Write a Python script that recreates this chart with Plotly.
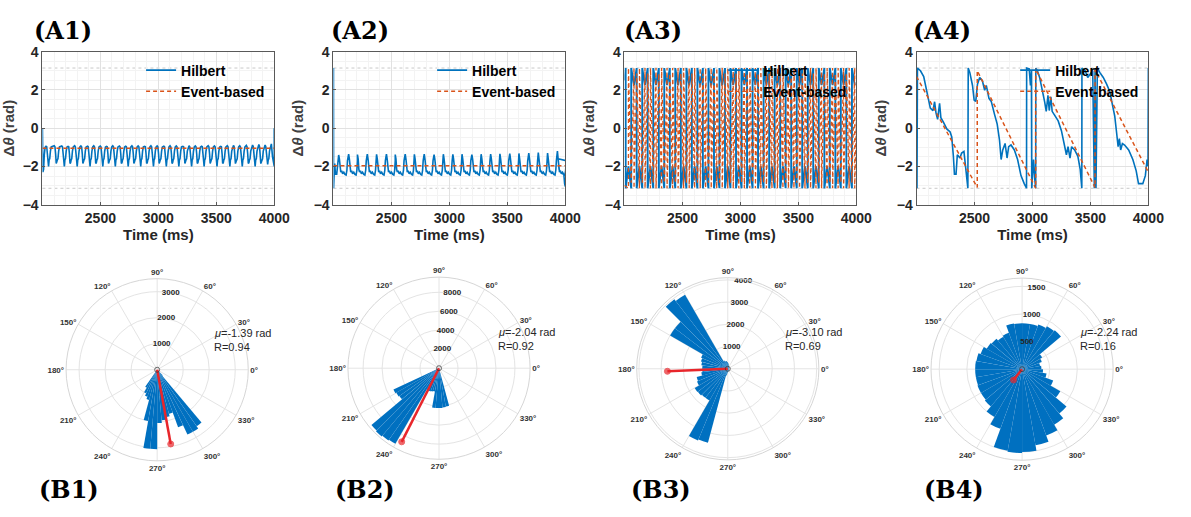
import numpy as np
import plotly.graph_objects as go

W, H = 1191, 517

# ---------------- shared axis data ----------------
T_RANGE = [2000, 4000]
X_TICKS = [2500, 3000, 3500, 4000]
Y_TICKS = [-4, -2, 0, 2, 4]
PI_LEVELS = [3.1416, -3.1416]

# ---------------- A1 ----------------
a1_head_t = [2000, 2004, 2010, 2016, 2023]
a1_head_v = [0.0, -2.3, -2.15, -1.4, -1.0]
a1_peak_t = [2031, 2102, 2167, 2221, 2278, 2332, 2389, 2443, 2499, 2553, 2607, 2664,
             2718, 2772, 2826, 2882, 2936, 2990, 3047, 3101, 3155, 3212, 3265, 3319,
             3373, 3430, 3484, 3538, 3595, 3648, 3702, 3759, 3813, 3867, 3921]
a1_peak_v = [-0.95, -0.92, -0.93, -0.95, -0.92, -0.93, -0.94, -0.92, -0.93, -0.95, -0.92, -0.93,
             -0.94, -0.92, -0.93, -0.95, -0.92, -0.93, -0.94, -0.92, -0.93, -0.95, -0.92, -0.93,
             -0.94, -0.92, -0.93, -0.95, -0.92, -0.90, -0.92, -0.90, -0.88, -0.85, -0.88]
a1_trough_v = [-2.0, -1.75, -2.0, -1.8, -2.0, -1.75, -2.0, -1.8, -2.0, -1.75, -2.0, -1.8,
               -2.0, -1.75, -2.0, -1.8, -2.0, -1.75, -2.0, -1.8, -2.0, -1.75, -2.0, -1.8,
               -2.0, -1.75, -2.0, -1.8, -2.0, -1.75, -2.0, -1.8, -2.0, -1.75, -1.9]
a1_shape_dt = [6, 12, 17, 22, 27, 32, 38, 45]
a1_shape_v = [-0.97, -1.35, -1.85, None, -1.65, -1.6, -1.2, -0.98]   # None -> trough value
a1_tail_t = [3975, 3985, 3995, 4000, 4000]
a1_tail_v = [-0.82, -1.5, -2.0, -2.0, 0.0]
a1_event_t = [2000, 4000]
a1_event_v = [-1.05, -1.05]

# ---------------- A2 ----------------
a2_head_t = [2000, 2001, 2006, 2011, 2017, 2028, 2037]
a2_head_v = [3.14, -3.14, -2.35, -1.85, -2.4, -2.4, -2.0]
a2_peak_t = [2045, 2131, 2207, 2292, 2372, 2457, 2533, 2619, 2698, 2783, 2868, 2948,
             3030, 3109, 3194, 3274, 3356, 3436, 3521, 3600, 3685, 3767, 3847, 3932]
a2_peak_v = [-1.4, -1.36, -1.38, -1.36, -1.37, -1.36, -1.38, -1.36, -1.37, -1.36, -1.38, -1.36,
             -1.37, -1.36, -1.38, -1.36, -1.35, -1.34, -1.33, -1.32, -1.3, -1.28, -1.3, -1.2]
a2_shape_dt = [6, 12, 18, 26, 34, 44, 54, 64, 71, 76]
a2_shape_v = [-1.6, -2.15, -2.3, -2.22, -2.38, -2.3, -2.42, -2.45, -2.2, -1.7]
a2_tail_t = [3938, 3946, 3960, 3975, 3988, 3994, 4000]
a2_tail_v = [-1.6, -2.15, -2.3, -2.35, -2.45, -2.9, -3.05]
a2_event_t = [2000, 4000]
a2_event_v = [-1.96, -1.96]

# ---------------- A3 (phase hovering around +/-pi, crossing the wrap) ----------------
a3_h_head_t = [2000]
a3_h_head_v = [2.5]
a3_h_cross = [2010, 2058, 2105, 2153, 2200, 2248, 2296, 2343, 2391, 2438, 2486, 2534,
              2581, 2629, 2676, 2724, 2772, 2819, 2867, 2914, 2962, 3010, 3057, 3105,
              3152, 3200, 3248, 3295, 3343, 3390, 3438, 3486, 3533, 3581, 3628, 3676,
              3724, 3771, 3819, 3866, 3914, 3962]
a3_h_tip_dt = 24                 # time of excursion tip after a crossing
a3_h_tips = [-2.0, 2.25]         # bottom excursion tip, top excursion tip
a3_e_head_t = [2000]
a3_e_head_v = [-3.0]
a3_e_cross = [2034, 2082, 2129, 2177, 2224, 2272, 2320, 2367, 2415, 2462, 2510, 2558,
              2605, 2653, 2700, 2748, 2796, 2843, 2891, 2938, 2986, 3034, 3081, 3129,
              3176, 3224, 3272, 3319, 3367, 3414, 3462, 3510, 3557, 3605, 3652, 3700,
              3748, 3795, 3843, 3890, 3938, 3986]
a3_e_tip_dt = 24
a3_e_tips = [2.85, -2.85]

# ---------------- A4 ----------------
a4_h_t = [2000, 2004, 2008, 2034, 2062, 2091, 2119, 2142, 2156, 2168, 2182, 2199, 2210, 2233,
          2261, 2290, 2304, 2318, 2327, 2341, 2352, 2375, 2389, 2409, 2426, 2443, 2446, 2460,
          2483, 2497, 2511, 2526, 2545, 2568, 2588, 2602, 2625, 2645, 2673, 2696, 2716, 2730,
          2744, 2764, 2781, 2795, 2815, 2844, 2872, 2901, 2929, 2949, 2950, 2972, 2983, 2991,
          2994, 3009, 3020, 3028, 3029, 3043, 3062, 3085, 3105, 3119, 3134, 3145, 3159, 3170,
          3193, 3222, 3250, 3276, 3293, 3307, 3324, 3338, 3364, 3392, 3412, 3426, 3427, 3455,
          3477, 3497, 3520, 3534, 3540, 3548, 3560, 3582, 3611, 3639, 3668, 3690, 3710, 3727,
          3739, 3750, 3761, 3776, 3795, 3830, 3866, 3895, 3915, 3952, 3974, 3989, 3997, 4000]
a4_h_v = [0.88, -3.14, 3.14, 3.0, 2.7, 1.9, 1.05, 0.92, 1.38, 0.8, 0.46, 1.3, 0.55, 0.3,
          -0.04, -0.2, -0.46, -1.47, -2.4, -2.4, -1.39, -1.56, -1.3, -1.22, -2.15, -3.14, 3.14, 2.9,
          2.23, 1.47, 1.4, 2.3, 2.65, 2.48, 1.98, 2.23, 1.56, 1.39, 0.72, 0.21, -0.63, -1.64,
          -1.14, -0.8, -1.56, -0.97, -0.88, -1.14, -1.64, -2.48, -2.9, -3.14, 3.14, 3.1, 2.23, 3.0,
          -3.14, -1.64, -2.65, -3.14, 3.14, 3.0, 2.65, 2.06, 1.39, 0.88, 1.72, 0.92, 1.64, 0.88,
          0.63, 0.38, -0.13, -0.8, -1.39, -0.97, -1.56, -0.97, -1.14, -1.47, -2.15, -3.14, 3.14, 3.0,
          2.65, 2.82, 3.0, -3.14, 3.14, -3.14, 3.14, 2.9, 2.65, 2.31, 1.9, 1.22, 0.63, -0.29,
          -0.97, -0.55, -1.14, -0.8, -0.88, -1.14, -1.64, -2.23, -2.9, -2.9, -2.48, -1.64, -1.98, 3.14]
a4_e_t = [2000, 2524, 2524, 3028, 3028, 3540, 3540, 4000]
a4_e_v = [2.7, -3.1, 3.0, -3.14, 3.1, -3.1, 3.05, -2.3]

# ---------------- polar histograms ----------------
ANG_TICKS = list(range(0, 360, 30))
ANG_LABELS = [f"{a}°" for a in ANG_TICKS]
R_LABEL_ANGLE = 80

b1_edges = list(range(235, 320, 5))
b1_counts = [800, 1000, 1100, 1200, 2000, 3050, 3050, 2050, 1950, 1850, 1750, 2350, 2750, 2750, 2650, 300]
b1_rmax = 3500
b1_rticks = [1000, 2000, 3000]
b1_mu, b1_R, b1_len = -1.39, 0.94, 2900

b2_edges = list(range(200, 295, 5))
b2_counts = [300, 5300, 5200, 5100, 9300, 9400, 9300, 9200, 2600, 2600, 2550, 2500,
             4200, 4200, 4200, 4150, 4100, 300]
b2_rmax = 9600
b2_rticks = [2000, 4000, 6000, 8000]
b2_mu, b2_R, b2_len = -2.04, 0.92, 8700

b3_edges = [i * 7.5 for i in range(0, 49)]
b3_counts = [80, 60, 50, 50, 60, 80, 90, 100, 120, 150, 200, 250,
             300, 350, 350, 400, 3850, 3950, 3000, 3000, 1300, 1250, 1200, 1150,
             1150, 1200, 1450, 1500, 1720, 1700, 1650, 1650, 3500, 3450, 300, 200,
             150, 120, 100, 90, 80, 70, 60, 60, 50, 50, 60, 70]
b3_rmax = 4100
b3_rticks = [1000, 2000, 3000, 4000]
b3_mu, b3_R, b3_len = -3.10, 0.69, 2720

b4_edges = list(range(0, 370, 10))
b4_counts = [350, 330, 380, 420, 920, 900, 860, 830, 830, 830, 840, 700,
             680, 720, 740, 800, 840, 850, 850, 850, 860, 860, 880, 1000,
             1150, 1500, 1520, 1500, 1400, 1280, 1160, 1050, 800, 600, 450, 380]
b4_rmax = 1650
b4_rticks = [500, 1000, 1500]
b4_mu, b4_R, b4_len = -2.24, 0.16, 250

BLUE = '#0072BD'
ORANGE = '#D95319'
BAR_BLUE = '#0070C0'
FONT = 'Liberation Sans, Arial, sans-serif'


def build_periodic(head_t, head_v, peaks_t, peaks_v, dt, dv, tail_t, tail_v, troughs=None):
    t, v = list(head_t), list(head_v)
    for i, (pt, pv) in enumerate(zip(peaks_t, peaks_v)):
        t.append(pt)
        v.append(pv)
        for d, val in zip(dt, dv):
            t.append(pt + d)
            v.append(troughs[i] if val is None else val)
    return t + list(tail_t), v + list(tail_v)


def build_crossings(head_t, head_v, crosses, tip_dt, tips, start_top):
    """Wrapped phase hovering at +/-pi: vertical jump at each crossing, excursion tip between."""
    t, v = list(head_t), list(head_v)
    top = start_top
    for c in crosses:
        if top:
            t += [c, c]
            v += [3.14, -3.14]
            t.append(c + tip_dt)
            v.append(tips[0])
        else:
            t += [c, c]
            v += [-3.14, 3.14]
            t.append(c + tip_dt)
            v.append(tips[1])
        top = not top
    return t, v


a1_t, a1_v = build_periodic(a1_head_t, a1_head_v, a1_peak_t, a1_peak_v, a1_shape_dt, a1_shape_v,
                            a1_tail_t, a1_tail_v, a1_trough_v)
a2_t, a2_v = build_periodic(a2_head_t, a2_head_v, a2_peak_t, a2_peak_v, a2_shape_dt, a2_shape_v,
                            a2_tail_t, a2_tail_v)
a3_t, a3_v = build_crossings(a3_h_head_t, a3_h_head_v, a3_h_cross, a3_h_tip_dt, a3_h_tips, True)
a3_et, a3_ev = build_crossings(a3_e_head_t, a3_e_head_v, a3_e_cross, a3_e_tip_dt, a3_e_tips, False)

top_series = [
    (a1_t, a1_v, a1_event_t, a1_event_v, 1.6, 1.5),
    (a2_t, a2_v, a2_event_t, a2_event_v, 1.6, 1.5),
    (a3_t, a3_v, a3_et, a3_ev, 1.9, 1.3),
    (a4_h_t, a4_h_v, a4_e_t, a4_e_v, 1.6, 1.5),
]

fig = go.Figure()

top_x_px = [(43, 278), (338, 573), (633, 868), (929, 1164)]
top_y_px = (45, 203)
legend_names = ['legend', 'legend2', 'legend3', 'legend4']

layout = dict(autosize=True, margin=dict(l=0, r=0, t=0, b=0),
              paper_bgcolor='white', plot_bgcolor='white', showlegend=True,
              font=dict(family=FONT))

for i, (ht, hv, et, ev, hw, ew) in enumerate(top_series):
    n = '' if i == 0 else str(i + 1)
    xa, ya = 'x' + n, 'y' + n
    fig.add_trace(go.Scatter(x=ht, y=hv, mode='lines', name='Hilbert',
                             line=dict(color=BLUE, width=hw), xaxis=xa, yaxis=ya,
                             legend=legend_names[i]))
    fig.add_trace(go.Scatter(x=et, y=ev, mode='lines', name='Event-based',
                             line=dict(color=ORANGE, width=ew, dash='4px,3px'), xaxis=xa, yaxis=ya,
                             legend=legend_names[i]))
    x0, x1 = top_x_px[i]
    common = dict(showline=True, linecolor='#595959', linewidth=1, mirror=True,
                  ticks='inside', ticklen=3, tickcolor='#595959',
                  showgrid=True, gridcolor='#e1e1e1', gridwidth=1, zeroline=False,
                  tickfont=dict(family=FONT, size=14, color='#262626', weight='bold'))
    layout['xaxis' + n] = dict(common, domain=[x0 / W, x1 / W], anchor=ya, range=T_RANGE,
                               tickmode='array', tickvals=X_TICKS,
                               minor=dict(tickmode='linear', tick0=2000, dtick=100, showgrid=True,
                                          gridcolor='#f3f3f3', ticks=''),
                               title=dict(text='Time (ms)', standoff=2,
                                          font=dict(family=FONT, size=15, color='#262626', weight='bold')))
    layout['yaxis' + n] = dict(common, domain=[1 - top_y_px[1] / H, 1 - top_y_px[0] / H], anchor=xa,
                               range=[-4, 4], tickmode='array', tickvals=Y_TICKS,
                               minor=dict(tickmode='linear', tick0=-4, dtick=0.5, showgrid=True,
                                          gridcolor='#f3f3f3', ticks=''),
                               title=dict(text='Δ<i>θ</i> (rad)', standoff=6,
                                          font=dict(family=FONT, size=15, color='#404040', weight='bold')))
    layout[legend_names[i]] = dict(x=(x0 + 100) / W, y=1 - 48 / H, xanchor='left', yanchor='top',
                                   bgcolor='rgba(0,0,0,0)', borderwidth=0, tracegroupgap=0,
                                   font=dict(family=FONT, size=14, color='#000000', weight='bold'),
                                   itemwidth=30)
    for lev in PI_LEVELS:
        fig.add_shape(type='line', xref=xa + ' domain', yref=ya, x0=0, x1=1, y0=lev, y1=lev,
                      line=dict(color='#c8c8c8', width=1, dash='dot'), layer='below')

# ---------------- polar panels ----------------
polar_centers = [(159.3, 373.3), (445.0, 371.7), (737.7, 372.3), (1036.0, 372.7)]
POLAR_R = 94
polar_data = [
    (b1_edges, b1_counts, b1_rmax, b1_rticks, b1_mu, b1_R, b1_len),
    (b2_edges, b2_counts, b2_rmax, b2_rticks, b2_mu, b2_R, b2_len),
    (b3_edges, b3_counts, b3_rmax, b3_rticks, b3_mu, b3_R, b3_len),
    (b4_edges, b4_counts, b4_rmax, b4_rticks, b4_mu, b4_R, b4_len),
]
stat_text_pos = [(215, 335), (503, 334), (794, 334), (1093, 334)]

annotations = []
for i, (edges, counts, rmax, rticks, mu, R, vlen) in enumerate(polar_data):
    pn = 'polar' if i == 0 else 'polar' + str(i + 1)
    cx, cy = polar_centers[i]
    widths = [edges[k + 1] - edges[k] for k in range(len(counts))]
    centers = [edges[k] + widths[k] / 2 for k in range(len(counts))]
    fig.add_trace(go.Barpolar(r=counts, theta=centers, width=widths, subplot=pn,
                              marker=dict(color=BAR_BLUE, line=dict(width=0)), showlegend=False))
    fig.add_trace(go.Scatterpolar(r=rticks, theta=[R_LABEL_ANGLE] * len(rticks), mode='text',
                                  text=[str(t) for t in rticks], subplot=pn, showlegend=False,
                                  textfont=dict(family=FONT, size=8, color='#262626', weight='bold')))
    mu_deg = float(np.degrees(mu)) % 360
    fig.add_trace(go.Scatterpolar(r=[0, vlen], theta=[mu_deg, mu_deg], mode='lines+markers',
                                  subplot=pn, showlegend=False,
                                  line=dict(color='#E8262B', width=2.5),
                                  marker=dict(size=[5, 6], symbol=['circle-open', 'circle'],
                                              color=['#333333', '#E8262B'])))
    layout[pn] = dict(domain=dict(x=[(cx - POLAR_R) / W, (cx + POLAR_R) / W],
                                  y=[(H - cy - POLAR_R) / H, (H - cy + POLAR_R) / H]),
                      bgcolor='white', bargap=0,
                      angularaxis=dict(tickmode='array', tickvals=ANG_TICKS, ticktext=ANG_LABELS,
                                       direction='counterclockwise', rotation=0,
                                       gridcolor='#e4e4e4', linecolor='#d6d6d6', showline=True,
                                       ticks='', tickfont=dict(family=FONT, size=8, color='#333333',
                                                               weight='bold')),
                      radialaxis=dict(range=[0, rmax], tickmode='array', tickvals=rticks,
                                      showticklabels=False, ticks='', showline=False,
                                      gridcolor='#e4e4e4'))
    tx, ty = stat_text_pos[i]
    annotations.append(dict(x=tx / W, y=1 - ty / H, xref='paper', yref='paper', xanchor='left',
                            yanchor='middle', showarrow=False,
                            text=f'<i>μ</i>={mu:.2f} rad',
                            font=dict(family=FONT, size=11, color='#262626')))
    annotations.append(dict(x=tx / W, y=1 - (ty + 15) / H, xref='paper', yref='paper', xanchor='left',
                            yanchor='middle', showarrow=False, text=f'R={R:.2f}',
                            font=dict(family=FONT, size=11, color='#262626')))

panel_labels = ['(A1)', '(A2)', '(A3)', '(A4)', '(B1)', '(B2)', '(B3)', '(B4)']
panel_label_pos = [(32, 23), (333, 23), (630, 23), (923, 23), (37, 497), (338, 497), (638, 497), (935, 497)]
for lab, (px, py) in zip(panel_labels, panel_label_pos):
    annotations.append(dict(x=px / W, y=1 - py / H, xref='paper', yref='paper', xanchor='left',
                            yanchor='middle', showarrow=False, text=lab,
                            font=dict(family='DejaVu Serif', size=24, color='#000000', weight='bold')))

layout['annotations'] = annotations
fig.update_layout(**layout)
fig.write_html(
    'out.html',
    default_width='100vw', default_height='100vh',
    config={'displayModeBar': False, 'responsive': True},
    post_script=("document.documentElement.style.margin='0px';document.body.style.margin='0px';"
                 "document.documentElement.style.overflow='hidden';document.body.style.overflow='hidden';"
                 "var gd=document.getElementById('{plot_id}');if(window.Plotly&&gd){Plotly.Plots.resize(gd);}"),
)
